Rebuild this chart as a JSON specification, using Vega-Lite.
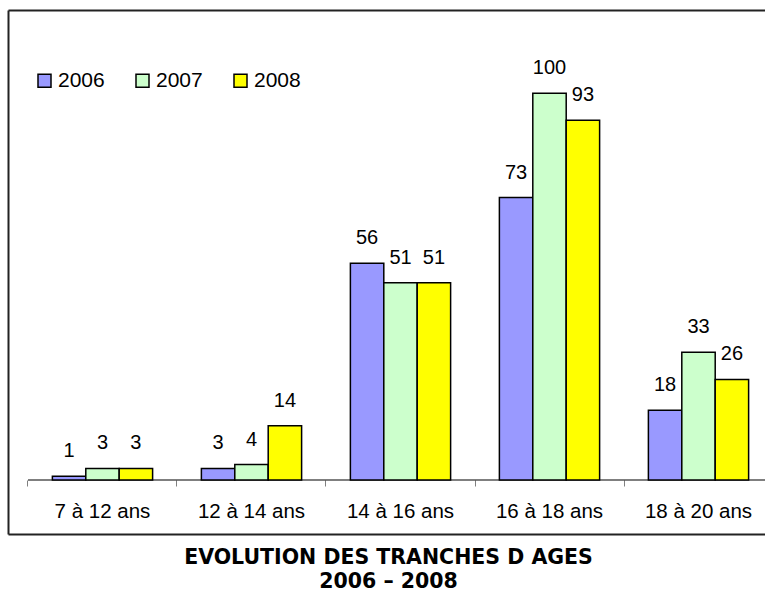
{
  "$schema": "https://vega.github.io/schema/vega-lite/v6.json",
  "autosize": "none",
  "width": 785,
  "height": 524,
  "padding": {"left": 8, "top": 10, "right": 0, "bottom": 60},
  "background": "white",
  "config": {
    "view": {"stroke": null},
    "font": "Liberation Sans"
  },
  "title": {
    "text": ["EVOLUTION DES TRANCHES D AGES", "2006 – 2008"],
    "orient": "bottom",
    "anchor": "middle",
    "font": "DejaVu Sans",
    "fontWeight": "bold",
    "fontSize": 20.5,
    "lineHeight": 23.8,
    "color": "black",
    "offset": 14,
    "dx": -12
  },
  "data": {
    "values": [
      {"tranche": "7 à 12 ans", "annee": "2006", "valeur": 1},
      {"tranche": "7 à 12 ans", "annee": "2007", "valeur": 3},
      {"tranche": "7 à 12 ans", "annee": "2008", "valeur": 3},
      {"tranche": "12 à 14 ans", "annee": "2006", "valeur": 3},
      {"tranche": "12 à 14 ans", "annee": "2007", "valeur": 4},
      {"tranche": "12 à 14 ans", "annee": "2008", "valeur": 14},
      {"tranche": "14 à 16 ans", "annee": "2006", "valeur": 56},
      {"tranche": "14 à 16 ans", "annee": "2007", "valeur": 51},
      {"tranche": "14 à 16 ans", "annee": "2008", "valeur": 51},
      {"tranche": "16 à 18 ans", "annee": "2006", "valeur": 73},
      {"tranche": "16 à 18 ans", "annee": "2007", "valeur": 100},
      {"tranche": "16 à 18 ans", "annee": "2008", "valeur": 93},
      {"tranche": "18 à 20 ans", "annee": "2006", "valeur": 18},
      {"tranche": "18 à 20 ans", "annee": "2007", "valeur": 33},
      {"tranche": "18 à 20 ans", "annee": "2008", "valeur": 26}
    ]
  },
  "encoding": {
    "x": {
      "field": "tranche",
      "type": "nominal",
      "sort": null,
      "scale": {"paddingInner": 0, "paddingOuter": 0.1342},
      "axis": {
        "title": null,
        "orient": "bottom",
        "offset": -54,
        "domain": false,
        "ticks": true,
        "tickColor": "#808080",
        "tickSize": 6,
        "tickWidth": 1,
        "bandPosition": 0,
        "labelFont": "Liberation Sans",
        "labelFontSize": 20.5,
        "labelColor": "black",
        "labelPadding": 15,
        "labelAngle": 0
      }
    }
  },
  "layer": [
    {
      "transform": [{"filter": "datum.annee === '2006'"}],
      "mark": {"type": "bar", "fill": null, "stroke": "black", "strokeWidth": 1.2},
      "encoding": {
        "y": {
          "datum": 0,
          "type": "quantitative",
          "scale": {"domain": [-13.96, 121.5], "nice": false, "zero": false},
          "axis": {
            "title": null,
            "orient": "left",
            "domain": true,
            "domainColor": "#222222",
            "domainWidth": 2,
            "ticks": false,
            "labels": false,
            "grid": true,
            "gridColor": "#222222",
            "gridWidth": 2,
            "gridOpacity": 1,
            "values": [-13.96, 121.5]
          }
        },
        "y2": {"datum": 0}
      }
    },
    {
      "mark": {"type": "bar", "stroke": "black", "strokeWidth": 1.5},
      "encoding": {
        "xOffset": {"field": "annee", "type": "nominal", "scale": {"paddingInner": 0, "paddingOuter": 0.73}},
        "y": {"field": "valeur", "type": "quantitative"},
        "y2": {"datum": 0},
        "fill": {
          "field": "annee",
          "type": "nominal",
          "scale": {"domain": ["2006", "2007", "2008"], "range": ["#9999FF", "#CCFFCC", "#FFFF00"]},
          "legend": {
            "title": null,
            "orient": "none",
            "direction": "horizontal",
            "legendX": 26,
            "legendY": 60,
            "padding": 0,
            "symbolType": "square",
            "symbolSize": 169,
            "symbolStrokeColor": "black",
            "symbolStrokeWidth": 1.5,
            "symbolOpacity": 1,
            "labelFont": "Liberation Sans",
            "labelFontSize": 21,
            "labelColor": "black",
            "labelOffset": 3,
            "columnPadding": 27
          }
        }
      }
    },
    {
      "mark": {"type": "text", "baseline": "alphabetic", "align": "center", "dy": -19, "fontSize": 20, "font": "Liberation Sans", "color": "black"},
      "encoding": {
        "xOffset": {"field": "annee", "type": "nominal", "scale": {"paddingInner": 0, "paddingOuter": 0.73}},
        "y": {"field": "valeur", "type": "quantitative"},
        "text": {"field": "valeur", "type": "quantitative"}
      }
    }
  ]
}
